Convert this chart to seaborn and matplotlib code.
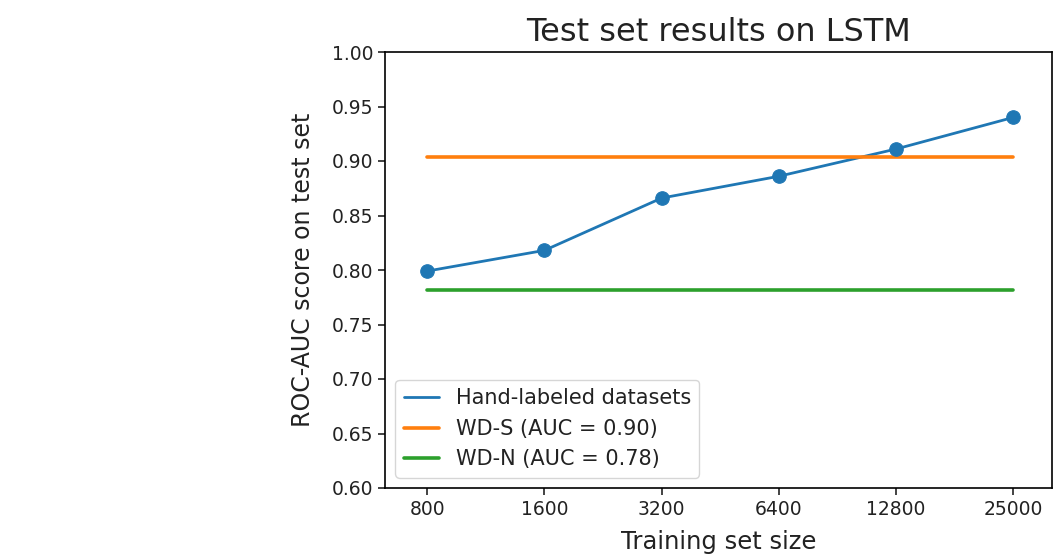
import numpy as np
import pandas as pd
import matplotlib
matplotlib.use('Agg')
import matplotlib.pyplot as plt
import seaborn as sns

sizes = ['800', '1600', '3200', '6400', '12800', '25000']
hand_auc = [0.799, 0.818, 0.866, 0.886, 0.911, 0.940]
wds_auc = 0.904
wdn_auc = 0.782

sns.set_style('ticks')
plt.rcParams['font.family'] = ['DejaVu Sans']
plt.rcParams['text.color'] = '#222222'
plt.rcParams['axes.labelcolor'] = '#222222'
plt.rcParams['xtick.color'] = '#222222'
plt.rcParams['ytick.color'] = '#222222'

df = pd.DataFrame({'size': sizes, 'auc': hand_auc})
flat = pd.DataFrame({'size': [sizes[0], sizes[-1]],
                     'wds': [wds_auc, wds_auc],
                     'wdn': [wdn_auc, wdn_auc]})

fig = plt.figure(figsize=(10.56, 5.54), dpi=100)
ax = fig.add_axes([385/1056, 1-488/554, 667/1056, 436/554])

pal = sns.color_palette('tab10')
sns.lineplot(data=df, x='size', y='auc', sort=False, color=pal[0], lw=2,
             label='Hand-labeled datasets', ax=ax)
sns.lineplot(data=flat, x='size', y='wds', sort=False, color=pal[1], lw=2.6,
             label='WD-S (AUC = 0.90)', ax=ax)
sns.lineplot(data=flat, x='size', y='wdn', sort=False, color=pal[2], lw=2.6,
             label='WD-N (AUC = 0.78)', ax=ax)
sns.scatterplot(data=df, x='size', y='auc', color=pal[0], s=95,
                edgecolor=pal[0], zorder=5, ax=ax)

ax.set_ylim(0.6, 1.0)
ax.set_yticks(np.arange(0.60, 1.001, 0.05))
ax.set_xlim(-0.36, 5.33)
ax.tick_params(labelsize=13.5, length=5, width=1.2)
ax.set_xlabel('Training set size', fontsize=17.5, labelpad=8)
ax.set_ylabel('ROC-AUC score on test set', fontsize=17, labelpad=12)
ax.set_title('Test set results on LSTM', fontsize=23, pad=8)
for s in ax.spines.values():
    s.set_visible(True)
    s.set_color('black')
    s.set_linewidth(1.2)
ax.legend(loc='lower left', fontsize=15, handlelength=1.7)

plt.savefig('out.png', dpi=100)
